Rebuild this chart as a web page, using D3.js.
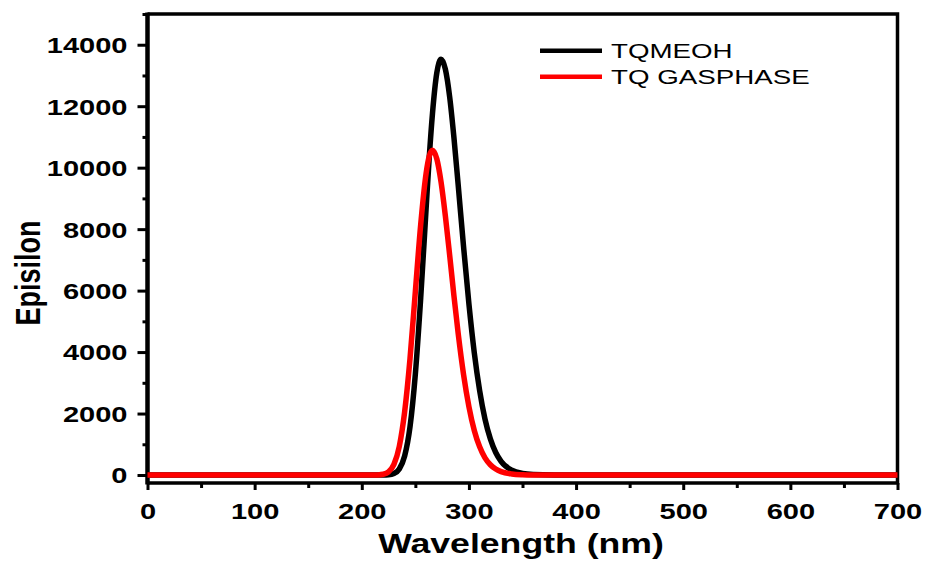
<!DOCTYPE html>
<html lang="en">
<head>
<meta charset="UTF-8">
<title>Episilon vs Wavelength</title>
<script src="https://d3js.org/d3.v7.min.js"></script>
<style>
  body { margin: 0; background: #fff; }
  text { font-family: "Liberation Sans", Arial, sans-serif; fill: #000; }
  .tick text { font-weight: bold; font-size: 22px; }
  .tick line { stroke: #000; stroke-width: 3px; }
  .domain { display: none; }
</style>
</head>
<body>
<script>
// wavelength grid (nm)
const wavelength = [0, 100, 200, 210, 215, 220, 225, 230, 235, 240, 245, 250, 255, 260, 263, 266, 270, 274, 278,
  282, 286, 290, 295, 300, 305, 310, 315, 320, 325, 330, 340, 350, 360, 380, 400, 500, 600, 700];
const tqMeoh = [0, 0, 0, 0, 0, 1, 9, 48, 195, 617, 1564, 3288, 5765, 8652, 10350, 11771, 13081, 13530, 13203,
  12307, 10981, 9425, 7428, 5562, 3979, 2747, 1820, 1175, 733, 447, 157, 50, 16, 2, 0, 0, 0, 0];
const tqGas = [0, 0, 0, 0.5, 4, 24, 103, 346, 930, 2053, 3780, 5976, 8154, 9809, 10381, 10570, 10292, 9530, 8431,
  7160, 5835, 4595, 3268, 2223, 1450, 917, 559, 334, 194, 110, 34, 10, 3, 0, 0, 0, 0, 0];
const seriesNames = ["TQMEOH", "TQ GASPHASE"];
const seriesColors = ["#000000", "#ff0000"];
const xTicks = [0, 100, 200, 300, 400, 500, 600, 700];
const xMinor = [50, 150, 250, 350, 450, 550, 650];
const yTicks = [0, 2000, 4000, 6000, 8000, 10000, 12000, 14000];
const yMinor = [1000, 3000, 5000, 7000, 9000, 11000, 13000, 15000];

const W = 930, H = 574;
const plot = { left: 147.5, right: 897.5, top: 14, bottom: 483 };
const sx = 1.32; // the picture is stretched sideways, text too

const svg = d3.select("body").append("svg")
  .attr("width", W)
  .attr("height", H);

const x = d3.scaleLinear().domain([0, 700]).range([plot.left, plot.right]);
const y = d3.scaleLinear().domain([-260, 15000]).range([plot.bottom, plot.top]);

// minor ticks
svg.append("g")
  .attr("transform", `translate(${plot.left},0)`)
  .call(d3.axisLeft(y).tickValues(yMinor).tickSize(5).tickFormat(""));
svg.append("g")
  .attr("transform", `translate(0,${plot.bottom})`)
  .call(d3.axisBottom(x).tickValues(xMinor).tickSize(5).tickFormat(""));

// major ticks
const yAxis = svg.append("g")
  .attr("transform", `translate(${plot.left},0)`)
  .call(d3.axisLeft(y).tickValues(yTicks).tickSize(10).tickPadding(0).tickFormat(d3.format("d")));
yAxis.selectAll("text")
  .attr("x", -20 / sx)
  .attr("dy", "0.36em")
  .attr("transform", `scale(${sx},1)`);

const xAxis = svg.append("g")
  .attr("transform", `translate(0,${plot.bottom})`)
  .call(d3.axisBottom(x).tickValues(xTicks).tickSize(7).tickPadding(13).tickFormat(d3.format("d")));
xAxis.selectAll("text")
  .attr("transform", `scale(${sx},1)`);

// frame
svg.append("path")
  .attr("d", `M${plot.left},${plot.bottom}H${plot.right}V${plot.top}H${plot.left}`)
  .attr("fill", "none")
  .attr("stroke", "#000")
  .attr("stroke-width", 3.5);
svg.append("line")
  .attr("x1", plot.left).attr("x2", plot.left)
  .attr("y1", plot.top - 1.5).attr("y2", plot.bottom + 1.5)
  .attr("stroke", "#000")
  .attr("stroke-width", 4.5);

// curves
const line = d3.line()
  .x(d => x(d[0]))
  .y(d => y(d[1]))
  .curve(d3.curveMonotoneX);

[tqMeoh, tqGas].forEach((vals, i) => {
  svg.append("path")
    .datum(wavelength.map((w, j) => [w, vals[j]]))
    .attr("fill", "none")
    .attr("stroke", seriesColors[i])
    .attr("stroke-width", 5.5)
    .attr("stroke-linejoin", "round")
    .attr("d", line);
});

// legend
const legend = svg.append("g");
seriesNames.forEach((name, i) => {
  const ly = 50.7 + i * 26;
  legend.append("line")
    .attr("x1", 540).attr("x2", 602)
    .attr("y1", ly).attr("y2", ly)
    .attr("stroke", seriesColors[i])
    .attr("stroke-width", 4.5);
  legend.append("text")
    .attr("transform", `translate(611,${ly}) scale(${sx},1)`)
    .attr("dy", "0.36em")
    .style("font-size", "21px")
    .text(name);
});

// axis titles
svg.append("text")
  .attr("transform", `translate(521,553) scale(${sx},1)`)
  .attr("text-anchor", "middle")
  .style("font-size", "27px")
  .style("font-weight", "bold")
  .text("Wavelength (nm)");

svg.append("text")
  .attr("transform", `translate(40,273) scale(${sx},1) rotate(-90)`)
  .attr("text-anchor", "middle")
  .style("font-size", "27px")
  .style("font-weight", "bold")
  .text("Episilon");
</script>
</body>
</html>
